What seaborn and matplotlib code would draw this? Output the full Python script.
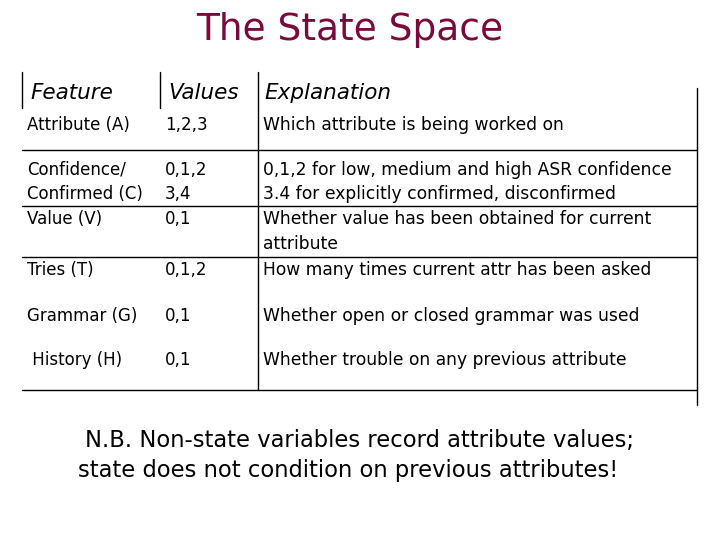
import matplotlib
matplotlib.use("Agg")
import matplotlib.pyplot as plt
import seaborn as sns

sns.set_style("white")
plt.rcParams['font.family'] = ['DejaVu Sans']
plt.rcParams['text.color'] = 'black'

title = "The State Space"
headers = ["Feature", "Values", "Explanation"]
features = ["Attribute (A)", "Confidence/", "Confirmed (C)", "Value (V)", "", "Tries (T)", "Grammar (G)", " History (H)"]
values = ["1,2,3", "0,1,2", "3,4", "0,1", "", "0,1,2", "0,1", "0,1"]
explanations = ["Which attribute is being worked on",
                "0,1,2 for low, medium and high ASR confidence",
                "3.4 for explicitly confirmed, disconfirmed",
                "Whether value has been obtained for current",
                "attribute",
                "How many times current attr has been asked",
                "Whether open or closed grammar was used",
                "Whether trouble on any previous attribute"]
row_y = [125, 170, 194, 219, 244, 270, 316, 360]
note = ["N.B. Non-state variables record attribute values;",
        "state does not condition on previous attributes!"]

fig = plt.figure(figsize=(7.2, 5.4), dpi=100)
ax = fig.add_axes([0, 0, 1, 1])
ax.set_xlim(0, 720)
ax.set_ylim(540, 0)
ax.axis("off")

ax.text(350, 30, title, ha="center", va="center", fontsize=27, color="#7a0a3c")

for x, h in zip([30, 168, 264], headers):
    ax.text(x, 93, h, ha="left", va="center", fontsize=15.5, style="italic", color="black")
for y, f, v, e in zip(row_y, features, values, explanations):
    ax.text(27, y, f, ha="left", va="center", fontsize=12, color="black")
    ax.text(165, y, v, ha="left", va="center", fontsize=12, color="black")
    ax.text(263, y, e, ha="left", va="center", fontsize=12.3, color="black")

lw = 1.0
ax.plot([22, 22], [72, 108], color="black", lw=lw)
ax.plot([160, 160], [72, 108], color="black", lw=lw)
ax.plot([258, 258], [72, 390], color="black", lw=lw)
ax.plot([697, 697], [88, 405], color="black", lw=lw)
for y in [150, 206, 257, 390]:
    ax.plot([22, 697], [y, y], color="black", lw=lw)

ax.text(85, 440, note[0], ha="left", va="center", fontsize=16.3, color="black")
ax.text(78, 470, note[1], ha="left", va="center", fontsize=16.3, color="black")

fig.savefig("out.png", dpi=100)
